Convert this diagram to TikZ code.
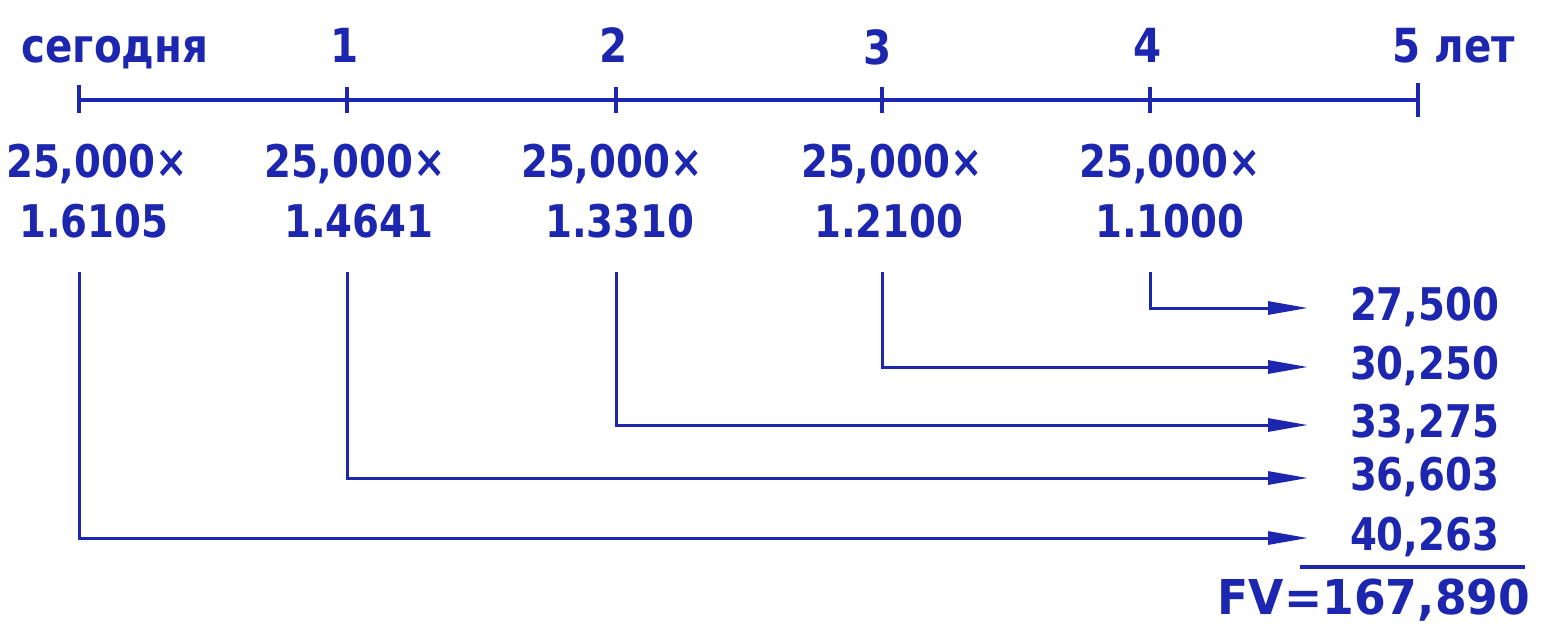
\documentclass[tikz,border=0pt]{standalone}
\usepackage{fontspec}
\setmainfont{DejaVu Sans}
\newfontfamily\handA[FakeStretch=0.86]{DejaVu Sans}
\newfontfamily\handT[FakeStretch=0.86]{DejaVu Sans}
\newfontfamily\handF[FakeStretch=0.95]{DejaVu Sans}
\usetikzlibrary{arrows.meta}
\definecolor{ink}{RGB}{28,38,175}
\begin{document}
\begin{tikzpicture}[x=1pt,y=-1pt,line width=4pt,draw=ink,
  lbl/.style={font=\handA\bfseries\fontsize{45}{50}\selectfont,text=ink,inner sep=0pt,anchor=base},
  toplbl/.style={font=\handT\bfseries\fontsize{47}{50}\selectfont,text=ink,inner sep=0pt,anchor=base},
  fvlbl/.style={font=\handF\bfseries\fontsize{48}{52}\selectfont,text=ink,inner sep=0pt,anchor=base},
  arr/.style={-{Triangle[length=40pt,width=13pt]},line width=3pt}]
\useasboundingbox (0,0) rectangle (1550,630);
% timeline
\foreach \i/\x in {0/79,1/347,2/616,3/882,4/1150,5/1418}{
  \coordinate (t\i) at (\x,100);
}
\draw (t0) -- (t5);
\draw (t0) ++(0,-15) -- ++(0,28);
\foreach \i in {1,...,4}{\draw (t\i) ++(0,-13) -- ++(0,26);}
\draw (t5) ++(0,-17) -- ++(0,34);
% top labels
\node[toplbl] (l0) at (115,62) {сегодня};
\node[toplbl] (l1) at (345,62) {1};
\node[toplbl] (l2) at (614,62) {2};
\node[toplbl] (l3) at (878,64) {3};
\node[toplbl] (l4) at (1148,62) {4};
\node[toplbl] (l5) at (1454,62) {5 лет};
% factors
\node[lbl] (m0) at (97,177) {25,000×};
\node[lbl] (m1) at (355,177) {25,000×};
\node[lbl] (m2) at (612,177) {25,000×};
\node[lbl] (m3) at (892,177) {25,000×};
\node[lbl] (m4) at (1170,177) {25,000×};
\node[lbl] (r0) at (94,237) {1.6105};
\node[lbl] (r1) at (359,237) {1.4641};
\node[lbl] (r2) at (620,237) {1.3310};
\node[lbl] (r3) at (889,237) {1.2100};
\node[lbl] (r4) at (1170,237) {1.1000};
% arrow ends and values
\foreach \i/\y/\v in {4/308/{27,500},3/367/{30,250},2/425/{33,275},1/478/{36,603},0/538/{40,263}}{
  \coordinate (a\i) at (1308,\y);
  \node[lbl,anchor=base west] (v\i) at ([xshift=40pt,yshift=-12pt]a\i) {\v};
}
\node[fvlbl] (fv) at (1374,614) {FV=167,890};
% connectors
\foreach \i in {0,...,4}{
  \coordinate (s\i) at (t\i |- 0,272);
  \draw[arr] (s\i) |- (a\i);
}
\draw[line width=3.5pt] (1300,567) -- (1525,567);
\end{tikzpicture}
\end{document}
